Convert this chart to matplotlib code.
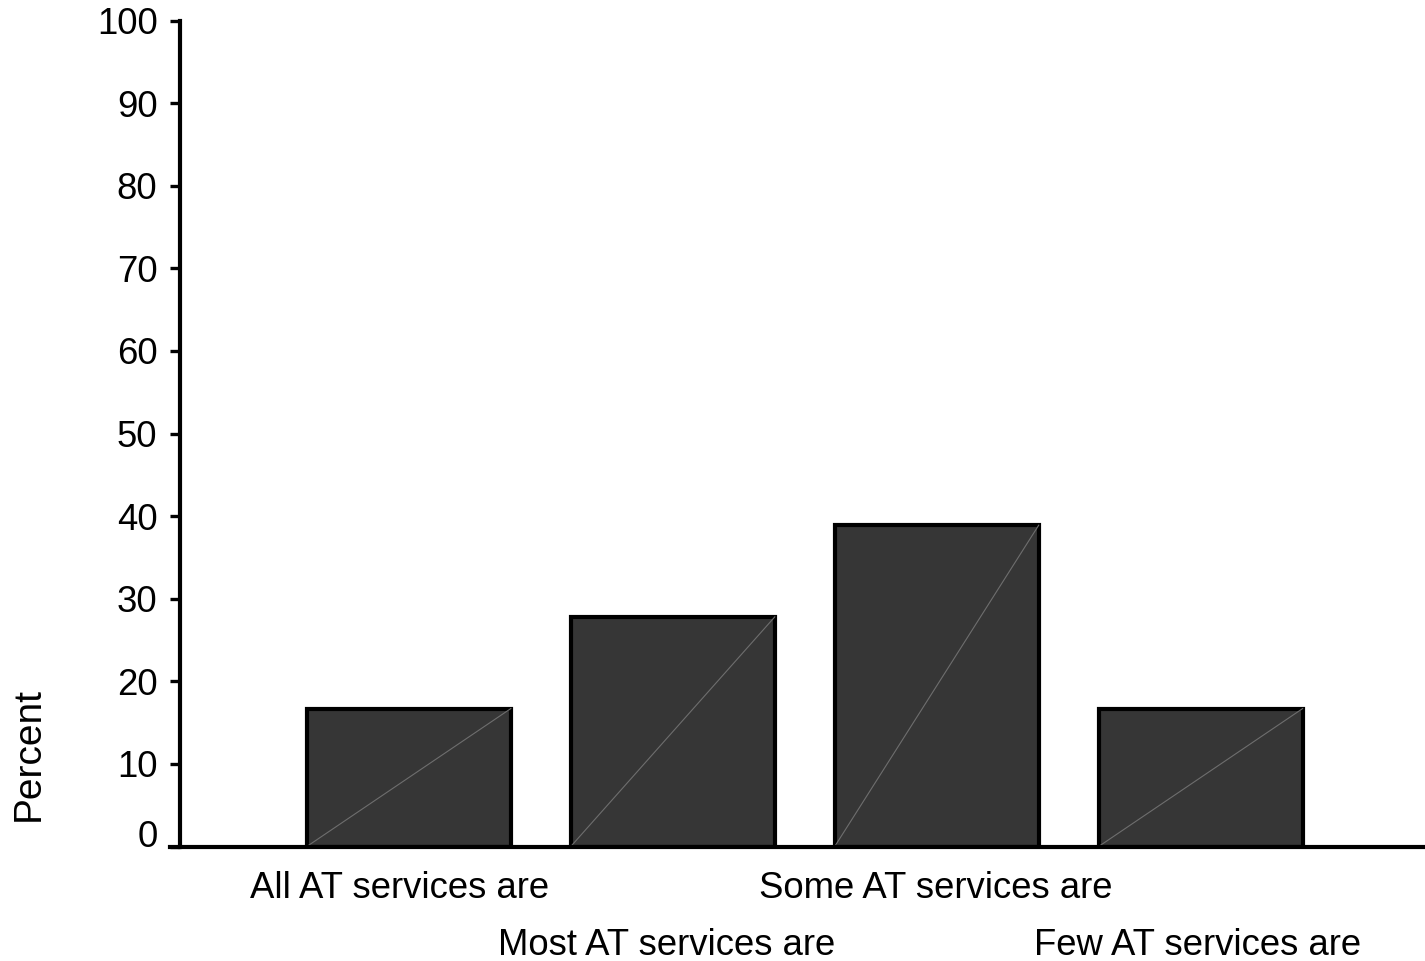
import matplotlib
matplotlib.use("Agg")
import matplotlib.pyplot as plt
import matplotlib.transforms as mtransforms

categories = ["All AT services are", "Most AT services are",
              "Some AT services are", "Few AT services are"]
values = [16.7, 27.8, 38.9, 16.7]
yticks = [0, 10, 20, 30, 40, 50, 60, 70, 80, 90, 100]

plt.rcParams['font.family'] = ['Liberation Sans', 'DejaVu Sans']
FS = 26.3

fig = plt.figure(figsize=(14.25, 9.61), dpi=100)
ax = fig.add_axes([180/1425, 1-846.5/961, 1-180/1425, (846.5-20.5)/961])

x = list(range(len(values)))
w = 0.773
ax.bar(x, values, width=w, color='#363636', edgecolor='black', linewidth=3, zorder=2)
for xi, v in zip(x, values):
    ax.plot([xi - w/2, xi + w/2], [0, v], color='#6e6e6e', linewidth=0.8, zorder=3)

ax.set_xlim(-0.867, 3.85)
ax.set_ylim(0, 100)
ax.set_yticks(yticks)
ax.set_yticklabels([str(t) for t in yticks], fontsize=FS)
ax.set_xticks([])
ax.tick_params(axis='y', direction='out', length=7.2, width=2.4, pad=9)
for s in ['top', 'right', 'bottom']:
    ax.spines[s].set_visible(False)
ax.spines['left'].set_linewidth(3)
ax.axhline(0, xmin=-10/1245, xmax=1, color='black', linewidth=3, clip_on=False, zorder=4)

# nudge the "0" label up a bit
lbl0 = ax.get_yticklabels()[0]
lbl0.set_transform(lbl0.get_transform() + mtransforms.ScaledTranslation(0, 13/100, fig.dpi_scale_trans))

# category labels, staggered in two rows (horizontal nudges in pixels)
nudges_px = [-9, -6, -1, -3]
trans = mtransforms.blended_transform_factory(ax.transData, fig.transFigure)
for i, (xi, c) in enumerate(zip(x, categories)):
    ypix = 898 if i % 2 == 0 else 955
    t = trans + mtransforms.ScaledTranslation(nudges_px[i]/100, 0, fig.dpi_scale_trans)
    ax.text(xi, 1 - ypix/961, c, transform=t, ha='center', va='baseline', fontsize=FS)

fig.text(29/1425, 1 - 754/961, 'Percent', rotation=90, ha='center', va='center', fontsize=28)

fig.savefig('out.png', dpi=100)
